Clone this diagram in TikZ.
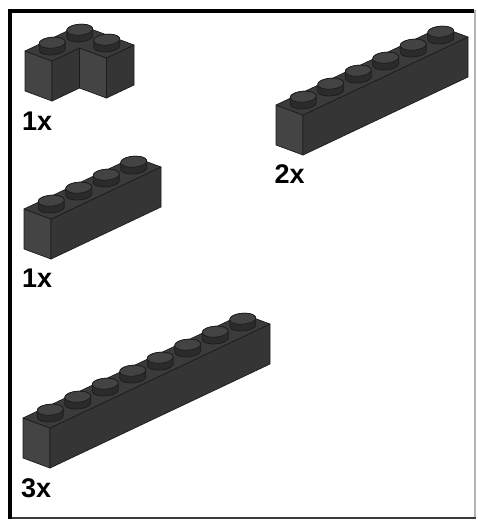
\documentclass[tikz,border=0pt]{standalone}
\usepackage{fontspec}
\setmainfont{Liberation Sans}
\definecolor{outl}{HTML}{1C1C1C}
\definecolor{topc}{HTML}{3B3B3B}
\definecolor{endc}{HTML}{444444}
\definecolor{frontc}{HTML}{353535}
\definecolor{studside}{HTML}{2B2B2B}
\definecolor{studtopc}{HTML}{434343}
\definecolor{framebot}{HTML}{3A3A3A}
\definecolor{frameright}{HTML}{B4B4B4}
\tikzset{
  edge/.style={draw=outl, line width=0.7pt, line join=round},
  topface/.style={edge, fill=topc},
  endface/.style={edge, fill=endc},
  frontface/.style={edge, fill=frontc},
  studbody/.style={edge, fill=studside},
  studtop/.style={edge, fill=studtopc},
  qty/.style={font=\bfseries\fontsize{27}{27}\selectfont, anchor=base west, inner sep=0pt, text=black},
  isoview/.style={x={(27.5pt,13pt)}, y={(27pt,-10pt)}, z={(0pt,40pt)}},
}
\newcommand\studr{0.335}
\newcommand\studh{0.17}
% stud with centre (#1,#2) on the top face (z=0)
\newcommand\legostud[2]{%
  \path[studbody] plot[domain=44.47:224.47, samples=25, variable=\t]
      ({#1+\studr*cos(\t)}, {#2+\studr*sin(\t)}, 0)
    -- plot[domain=224.47:404.47, samples=25, variable=\t]
      ({#1+\studr*cos(\t)}, {#2+\studr*sin(\t)}, \studh) -- cycle;
  \path[studtop] plot[domain=0:360, samples=49, variable=\t]
      ({#1+\studr*cos(\t)}, {#2+\studr*sin(\t)}, \studh) -- cycle;
}
% 1 x n brick, back-left top corner at pixel (#1,#2)
\newcommand\legobrick[3]{%
  \begin{scope}[shift={(#1pt,-#2pt)}, isoview]
    \path[endface] (0,0,0) -- (0,1,0) -- (0,1,-1) -- (0,0,-1) -- cycle;
    \path[frontface] (0,1,0) -- (#3,1,0) -- (#3,1,-1) -- (0,1,-1) -- cycle;
    \path[topface] (0,0,0) -- (#3,0,0) -- (#3,1,0) -- (0,1,0) -- cycle;
    \foreach \k in {1,...,#3} {\legostud{#3-\k+0.5}{0.5}}
  \end{scope}}
\begin{document}
\begin{tikzpicture}[x=1pt, y=1pt]
  \useasboundingbox (0,0) rectangle (478,-520);
  \fill[white] (0,0) rectangle (478,-520);
  % frame
  \draw[line width=2.2pt, frameright] (475,-10) -- (475,-518);
  \draw[line width=2.6pt, framebot] (9,-518) -- (476,-518);
  \draw[line width=3.2pt, black] (8.5,-11) -- (474,-11);
  \draw[line width=3.2pt, black] (10,-9.4) -- (10,-519);
  % corner brick
  \begin{scope}[shift={(25pt,-51pt)}, isoview]
    \path[endface] (0,0,0) -- (0,1,0) -- (0,1,-1) -- (0,0,-1) -- cycle;
    \path[frontface] (0,1,0) -- (1,1,0) -- (1,1,-1) -- (0,1,-1) -- cycle;
    \path[endface] (1,1,0) -- (1,2,0) -- (1,2,-1) -- (1,1,-1) -- cycle;
    \path[frontface] (1,2,0) -- (2,2,0) -- (2,2,-1) -- (1,2,-1) -- cycle;
    \path[topface] (0,0,0) -- (2,0,0) -- (2,2,0) -- (1,2,0) -- (1,1,0) -- (0,1,0) -- cycle;
    \legostud{1.5}{0.5}
    \legostud{1.5}{1.5}
    \legostud{0.5}{0.5}
  \end{scope}
  % straight bricks
  \legobrick{276}{105}{6}
  \legobrick{24}{209}{4}
  \legobrick{23}{418}{8}
  % quantities
  \node[qty] (q1) at (22,-130) {1x};
  \node[qty] (q2) at (274.5,-183) {2x};
  \node[qty] (q3) at (22,-287) {1x};
  \node[qty] (q4) at (21,-497) {3x};
\end{tikzpicture}
\end{document}
